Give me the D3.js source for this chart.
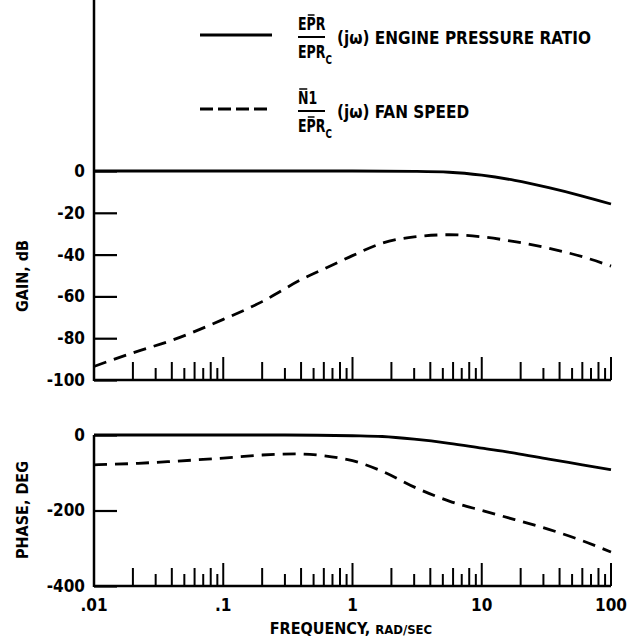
<!DOCTYPE html>
<html><head><meta charset="utf-8">
<script src="https://cdn.jsdelivr.net/npm/d3@7"></script>
<style>
body{margin:0;background:#fff}
svg{display:block}
text{font-family:"DejaVu Sans Condensed","DejaVu Sans",sans-serif;font-stretch:condensed;font-weight:bold;fill:#000}
</style>
</head><body>
<svg id="c" width="640" height="644"></svg>
<script>
// ---- data ----
const gainEprFreq  = [0.01, 0.1, 1, 3, 5.6, 10, 18, 33, 60, 100];
const gainEprDb    = [0, 0, 0, -0.2, -0.6, -2, -4.5, -8, -12, -15.8];
const gainN1Freq   = [0.01, 0.02, 0.04, 0.1, 0.2, 0.4, 0.7, 1.0, 1.7, 3, 5.6, 10, 18, 33, 60, 100];
const gainN1Db     = [-93.5, -87, -81, -71, -62.5, -52, -45, -40.5, -34.5, -31.5, -30.5, -31.5, -33.8, -37, -41, -45.5];
const phaseEprFreq = [0.01, 0.1, 0.3, 1, 1.7, 3, 5.6, 10, 18, 33, 60, 100];
const phaseEprDeg  = [0, 0, 0, -2, -4, -11, -22, -35, -48, -64, -79, -92];
const phaseN1Freq  = [0.01, 0.022, 0.04, 0.1, 0.2, 0.37, 0.6, 1.0, 1.7, 3.1, 5.6, 10, 18, 33, 60, 100];
const phaseN1Deg   = [-79, -75, -70, -61, -53, -50, -55, -68, -96, -140, -175, -200, -224, -250, -280, -310];
const gainTicks    = [0, -20, -40, -60, -80, -100];
const phaseTicks   = [0, -200, -400];
const freqLabels   = [[0.01, ".01"], [0.1, ".1"], [1, "1"], [10, "10"], [100, "100"]];

const FONT = '"DejaVu Sans Condensed","DejaVu Sans",sans-serif';
const svg = d3.select("#c");
const x = d3.scaleLog().domain([0.01, 100]).range([94, 611]);
const yG = d3.scaleLinear().domain([-100, 0]).range([380, 171]);
const yP = d3.scaleLinear().domain([-400, 0]).range([586, 435]);

const FS = 17;

// ---- minor / decade ticks on the bottom of each panel ----
const minor = [];
[0.01, 0.1, 1, 10].forEach(d => {
  for (let m = 2; m <= 9; m++) minor.push({v: d * m, h: m % 2 === 0 ? 18 : 12});
  minor.push({v: d * 10, h: 23});
});

function panel(y, ticks, axisTop) {
  const g = svg.append("g");
  g.append("line").attr("x1", x(0.01)).attr("x2", x(100))
    .attr("y1", y.range()[0]).attr("y2", y.range()[0])
    .attr("stroke", "#000").attr("stroke-width", 2.5);
  g.append("line").attr("x1", x(0.01)).attr("x2", x(0.01))
    .attr("y1", y.range()[0] + 1).attr("y2", axisTop)
    .attr("stroke", "#000").attr("stroke-width", 2.5);
  g.selectAll(".mt").data(minor).join("line")
    .attr("x1", d => x(d.v)).attr("x2", d => x(d.v))
    .attr("y1", y.range()[0]).attr("y2", d => y.range()[0] - d.h)
    .attr("stroke", "#000").attr("stroke-width", 2);
  const ax = d3.axisLeft(y).tickValues(ticks).tickSize(-23).tickPadding(9).tickFormat(d => d === 0 ? "0" : "-" + Math.abs(d));
  const ga = g.append("g").attr("transform", `translate(${x(0.01)},0)`).call(ax);
  ga.select(".domain").remove();
  ga.selectAll(".tick line").attr("stroke", "#000").attr("stroke-width", 2.2);
  ga.selectAll(".tick text").attr("font-size", FS).attr("fill", "#000")
    .attr("font-family", null)
    .style("font-family", FONT).style("font-stretch", "condensed").style("font-weight", "bold");
  return g;
}

panel(yG, gainTicks, 0);
panel(yP, phaseTicks, 435);

// ---- curves ----
function curve(fs, vs, y, dashed) {
  const pts = fs.map((f, i) => [x(f), y(vs[i])]);
  svg.append("path").attr("d", d3.line().curve(d3.curveMonotoneX)(pts))
    .attr("fill", "none").attr("stroke", "#000").attr("stroke-width", 2.8)
    .attr("stroke-dasharray", dashed ? "13,8" : null);
}
curve(gainEprFreq, gainEprDb, yG, false);
curve(gainN1Freq, gainN1Db, yG, true);
curve(phaseEprFreq, phaseEprDeg, yP, false);
curve(phaseN1Freq, phaseN1Deg, yP, true);

// ---- x labels ----
svg.selectAll(".xl").data(freqLabels).join("text")
  .attr("x", d => x(d[0])).attr("y", 611).attr("text-anchor", "middle")
  .attr("font-size", FS).text(d => d[1]);

const t = svg.append("text").attr("x", 351).attr("y", 634).attr("text-anchor", "middle").attr("font-size", 16);
t.append("tspan").text("FREQUENCY, ");
t.append("tspan").attr("font-size", 13).text("RAD/SEC");

// ---- y titles ----
svg.append("text").attr("transform", "translate(28,276) rotate(-90)").attr("text-anchor", "middle")
  .attr("font-size", 16).text("GAIN, dB");
svg.append("text").attr("transform", "translate(28,510) rotate(-90)").attr("text-anchor", "middle")
  .attr("font-size", 16).text("PHASE, DEG");

// ---- legend ----
const SX = 0.82;
function barOver(g, textSel, idx) {
  const node = textSel.node();
  const s = node.getStartPositionOfChar(idx), e = node.getEndPositionOfChar(idx);
  g.append("line").attr("x1", s.x + 1.5).attr("x2", e.x - 1.5)
    .attr("y1", -15).attr("y2", -15).attr("stroke", "#000").attr("stroke-width", 1.5);
}
function fraction(x0, yb, num, numBarIdx, denBarIdx, line) {
  const gn = svg.append("g").attr("transform", `translate(${x0},${yb - 6}) scale(${SX},1)`);
  const n = gn.append("text").attr("x", 0).attr("y", 0).attr("font-size", FS).text(num);
  barOver(gn, n, numBarIdx);
  svg.append("line").attr("x1", x0).attr("x2", x0 + 27).attr("y1", yb + 1).attr("y2", yb + 1)
    .attr("stroke", "#000").attr("stroke-width", 2);
  const gd = svg.append("g").attr("transform", `translate(${x0},${yb + 22}) scale(${SX},1)`);
  const d = gd.append("text").attr("x", 0).attr("y", 0).attr("font-size", FS);
  d.append("tspan").text("EPR");
  d.append("tspan").attr("dy", 6).attr("font-size", 12).text("C");
  if (denBarIdx !== null) barOver(gd, d, denBarIdx);
  svg.append("line").attr("x1", 200).attr("x2", 272).attr("y1", yb - 1).attr("y2", yb - 1)
    .attr("stroke", "#000").attr("stroke-width", 2.8).attr("stroke-dasharray", line ? null : "13,5");
}
fraction(298, 36, "EPR", 1, null, true);
svg.append("text").attr("x", 337).attr("y", 44).attr("font-size", FS).text("(jω) ENGINE PRESSURE RATIO");
fraction(298, 110, "N1", 0, 1, false);
svg.append("text").attr("x", 337).attr("y", 118).attr("font-size", FS).text("(jω) FAN SPEED");
</script>
</body></html>
